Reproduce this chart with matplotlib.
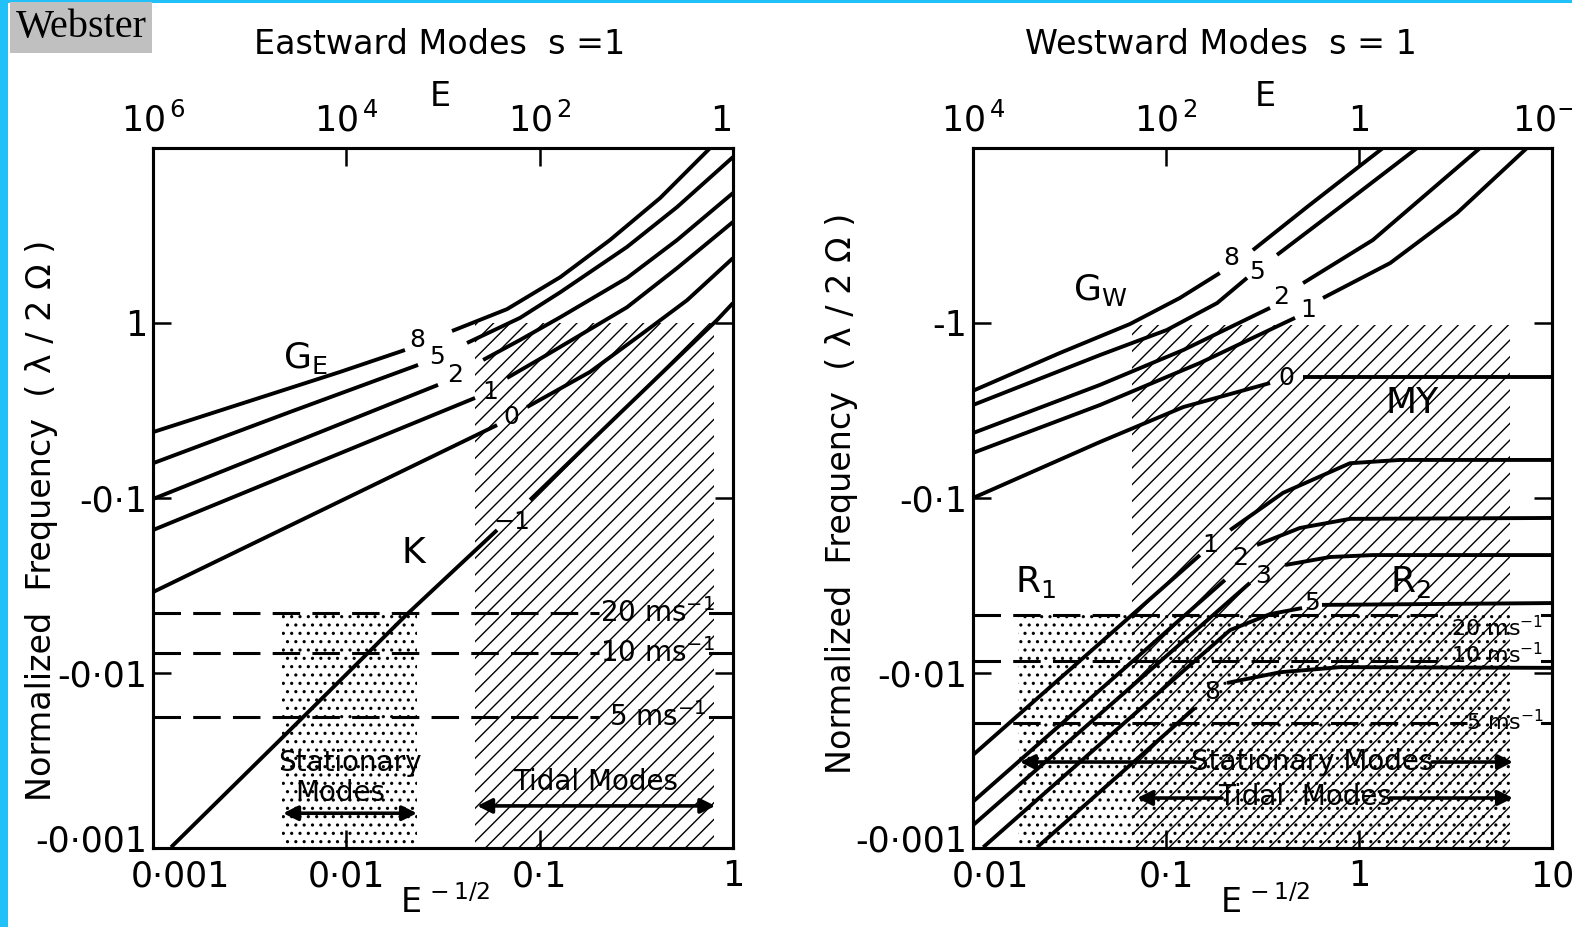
import numpy as np
import matplotlib
matplotlib.use('Agg')
import matplotlib.pyplot as plt
from matplotlib.patches import Rectangle
from matplotlib.transforms import ScaledTranslation

# x = E^-1/2, y = normalized frequency (lambda / 2 Omega)

# ---- eastward modes (left panel)
east_g8_x = [0.001, 0.00282, 0.00927, 0.0201]
east_g8_y = [0.238, 0.344, 0.525, 0.701]
east_g8_hi_x = [0.0352, 0.0678, 0.128, 0.231, 0.420, 0.762]
east_g8_hi_y = [0.90, 1.20, 1.83, 2.98, 5.18, 10.0]
east_g5_x = [0.001, 0.00511, 0.0235]
east_g5_y = [0.158, 0.310, 0.576]
east_g5_hi_x = [0.0421, 0.0792, 0.128, 0.283, 0.514, 1.0]
east_g5_hi_y = [0.769, 1.07, 1.50, 2.72, 4.60, 8.88]
east_g2_x = [0.001, 0.0298]
east_g2_y = [0.0987, 0.443]
east_g2_hi_x = [0.0510, 0.0792, 0.128, 0.283, 0.514, 1.0]
east_g2_hi_y = [0.615, 0.80, 1.08, 1.81, 2.98, 5.53]
east_g1_x = [0.001, 0.0463]
east_g1_y = [0.0656, 0.373]
east_g1_hi_x = [0.0678, 0.1, 0.156, 0.283, 0.514, 1.0]
east_g1_hi_y = [0.485, 0.622, 0.832, 1.23, 2.06, 3.78]
east_g0_x = [0.001, 0.0602]
east_g0_y = [0.0290, 0.261]
east_g0_hi_x = [0.0861, 0.182, 0.343, 0.579, 1.0]
east_g0_hi_y = [0.331, 0.525, 0.877, 1.35, 2.35]
east_k_x = [0.00124, 0.0053, 0.0209, 0.0602]
east_k_y = [0.00101, 0.00491, 0.0220, 0.0656]
east_k_hi_x = [0.0892, 0.261, 0.827, 1.0]
east_k_hi_y = [0.0975, 0.306, 1.04, 1.30]

east_tidal_x = [0.0463, 0.798]
east_tidal_y = [0.001, 1.0]
east_stat_x = [0.00465, 0.0232]
east_stat_y = [0.001, 0.022]
east_wind_y = [0.022, 0.013, 0.0056]

# ---- westward modes (right panel)
west_g8_x = [0.01, 0.0282, 0.0651, 0.118, 0.190]
west_g8_y = [0.41, 0.674, 0.987, 1.39, 1.93]
west_g8_hi_x = [0.282, 0.538, 1.33]
west_g8_hi_y = [2.61, 4.60, 10.0]
west_g5_x = [0.01, 0.0455, 0.101, 0.184, 0.263]
west_g5_y = [0.340, 0.656, 0.912, 1.30, 1.81]
west_g5_hi_x = [0.376, 0.798, 2.00]
west_g5_hi_y = [2.45, 4.60, 10.0]
west_g2_x = [0.01, 0.0455, 0.123, 0.346]
west_g2_y = [0.235, 0.443, 0.701, 1.22]
west_g2_hi_x = [0.513, 1.18, 4.24]
west_g2_hi_y = [1.69, 2.98, 10.0]
west_g1_x = [0.01, 0.0455, 0.150, 0.466]
west_g1_y = [0.181, 0.340, 0.591, 1.07]
west_g1_hi_x = [0.651, 1.45, 3.22, 7.42]
west_g1_hi_y = [1.39, 2.20, 4.25, 10.0]
west_g0_x = [0.01, 0.0455, 0.123, 0.346]
west_g0_y = [0.100, 0.209, 0.331, 0.454]
west_my_x = [0.513, 10.0]
west_my_y = [0.491, 0.491]

west_r1_x = [0.01, 0.150]
west_r1_y = [0.0034, 0.0472]
west_r1_hi_x = [0.215, 0.404, 0.898, 1.63, 10.0]
west_r1_hi_y = [0.0656, 0.107, 0.158, 0.165, 0.165]
west_r2_x = [0.01, 0.202]
west_r2_y = [0.00184, 0.0340]
west_r2_hi_x = [0.296, 0.494, 0.898, 10.0]
west_r2_hi_y = [0.0539, 0.0674, 0.0760, 0.0769]
west_r3_x = [0.01, 0.272]
west_r3_y = [0.00135, 0.0327]
west_r3_hi_x = [0.414, 0.708, 1.18, 10.0]
west_r3_hi_y = [0.0414, 0.046, 0.0472, 0.0472]
west_r5_x = [0.0113, 0.118, 0.215, 0.346, 0.507]
west_r5_y = [0.00101, 0.00987, 0.0176, 0.0217, 0.0235]
west_r5_hi_x = [0.643, 10.0]
west_r5_hi_y = [0.0245, 0.0251]
west_r8_x = [0.0215, 0.141]
west_r8_y = [0.00101, 0.00631]
west_r8_hi_x = [0.207, 0.390, 0.798, 10.0]
west_r8_hi_y = [0.00877, 0.0101, 0.0108, 0.0107]

west_tidal_x = [0.0667, 6.06]
west_tidal_y = [0.001, 0.974]
west_stat_x = [0.0171, 6.06]
west_stat_y = [0.001, 0.0214]
west_wind_y = [0.0214, 0.0117, 0.00518]

wind_labels = ['20 ms$^{-1}$', '10 ms$^{-1}$', '5 ms$^{-1}$']

# ---- axes ticks
freq_ticks = [0.001, 0.01, 0.1, 1]
east_ylabels = ['-0·001', '-0·01', '-0·1', '1']
west_ylabels = ['-0·001', '-0·01', '-0·1', '-1']
east_xticks = [0.001, 0.01, 0.1, 1]
east_xlabels = ['0·001', '0·01', '0·1', '1']
west_xticks = [0.01, 0.1, 1, 10]
west_xlabels = ['0·01', '0·1', '1', '10']
east_top_e = [1e6, 1e4, 1e2, 1.0]
east_top_labels = ['$10^{\\,6}$', '$10^{\\,4}$', '$10^{\\,2}$', '1']
west_top_e = [1e4, 1e2, 1.0, 1e-2]
west_top_labels = ['$10^{\\,4}$', '$10^{\\,2}$', '1', '$10^{-2}$']

W, H = 1572, 927
LW = 2.8


def style_axes(ax, xticks, xlabels, ylabels, top_e, top_labels):
    ax.set_xscale('log')
    ax.set_yscale('log')
    ax.set_xlim(xticks[0], xticks[-1])
    ax.set_ylim(freq_ticks[0], 10)
    ax.set_xticks(xticks, xlabels)
    ax.set_yticks(freq_ticks, ylabels)
    ax.minorticks_off()
    ax.tick_params(direction='in', length=13, width=1.8, labelsize=25, right=True)
    ax.tick_params(axis='x', pad=8)
    ax.tick_params(axis='y', pad=4)
    for s in ax.spines.values():
        s.set_linewidth(2.2)
    top = ax.twiny()
    top.set_xscale('log')
    top.set_xlim(ax.get_xlim())
    top.set_xticks(np.power(top_e, -0.5), top_labels)
    top.minorticks_off()
    top.tick_params(direction='in', length=13, width=1.8, labelsize=25, pad=7)
    for s in top.spines.values():
        s.set_linewidth(2.2)
    return top


def shift(fig, label, dx, dy):
    # nudge a tick label by some pixels
    label.set_transform(label.get_transform()
                        + ScaledTranslation(dx / 100, dy / 100, fig.dpi_scale_trans))


def region(ax, xs, ys, hatch, hlw=1.0):
    p = Rectangle((xs[0], ys[0]), xs[1] - xs[0], ys[1] - ys[0], facecolor='none',
                  edgecolor='black', linewidth=0, hatch=hatch, zorder=1)
    if hasattr(p, 'set_hatch_linewidth'):
        p.set_hatch_linewidth(hlw)
    ax.add_patch(p)


def curve(ax, xs, ys):
    ax.plot(xs, ys, color='black', lw=LW, solid_capstyle='butt', zorder=3)


def wind_line(ax, y, x0, x1, x2, x3):
    ax.plot([x0, x1], [y, y], color='black', lw=2.2, ls=(0, (9, 4)), zorder=2)
    ax.plot([x2, x3], [y, y], color='black', lw=2.2, zorder=2)


def arrow(ax, x0, x1, y, style):
    ax.annotate('', xy=(x1, y), xytext=(x0, y),
                arrowprops=dict(arrowstyle=style, lw=2.6, color='black',
                                mutation_scale=22, shrinkA=0, shrinkB=0), zorder=4)


def main() -> None:
    fig = plt.figure(figsize=(W / 100, H / 100), dpi=100)
    fig.patch.set_facecolor('white')
    plt.rcParams['hatch.linewidth'] = 1.0

    ax1 = fig.add_axes([153 / W, 79 / H, 580 / W, 700 / H])
    ax2 = fig.add_axes([973 / W, 79 / H, 579 / W, 700 / H])

    # ---------------- eastward panel
    region(ax1, east_tidal_x, east_tidal_y, '//')
    region(ax1, east_stat_x, east_stat_y, '..', 1.1)
    for xs, ys in [(east_g8_x, east_g8_y), (east_g8_hi_x, east_g8_hi_y),
                   (east_g5_x, east_g5_y), (east_g5_hi_x, east_g5_hi_y),
                   (east_g2_x, east_g2_y), (east_g2_hi_x, east_g2_hi_y),
                   (east_g1_x, east_g1_y), (east_g1_hi_x, east_g1_hi_y),
                   (east_g0_x, east_g0_y), (east_g0_hi_x, east_g0_hi_y),
                   (east_k_x, east_k_y), (east_k_hi_x, east_k_hi_y)]:
        curve(ax1, xs, ys)
    for y, lab in zip(east_wind_y, wind_labels):
        wind_line(ax1, y, 0.001, 0.203, 0.76, 1.0)
        ax1.text(0.405, y, lab, fontsize=20, ha='center', va='center', zorder=4)

    for txt, x, y in [('8', 0.0234, 0.80), ('5', 0.0295, 0.639), ('2', 0.0365, 0.505),
                      ('1', 0.0554, 0.403), ('0', 0.0711, 0.290), ('−1', 0.0720, 0.0729)]:
        ax1.text(x, y, txt, fontsize=18, ha='center', va='center', zorder=4)
    ax1.text(0.0221, 0.0485, 'K', fontsize=26, ha='center', va='center')
    ax1.text(0.00611, 0.631, 'G$_{\\rm E}$', fontsize=26, ha='center', va='center')
    ax1.text(0.0104, 0.00306, 'Stationary', fontsize=20, ha='center', va='center', zorder=4)
    ax1.text(0.00928, 0.00206, 'Modes', fontsize=20, ha='center', va='center', zorder=4)
    arrow(ax1, 0.00471, 0.0232, 0.00158, '<|-|>')
    ax1.text(0.194, 0.00238, 'Tidal Modes', fontsize=20, ha='center', va='center', zorder=4)
    arrow(ax1, 0.0475, 0.81, 0.00174, '<|-|>')

    top1 = style_axes(ax1, east_xticks, east_xlabels, east_ylabels, east_top_e, east_top_labels)

    # ---------------- westward panel
    region(ax2, west_tidal_x, west_tidal_y, '//')
    region(ax2, west_stat_x, west_stat_y, '..', 1.1)
    for xs, ys in [(west_g8_x, west_g8_y), (west_g8_hi_x, west_g8_hi_y),
                   (west_g5_x, west_g5_y), (west_g5_hi_x, west_g5_hi_y),
                   (west_g2_x, west_g2_y), (west_g2_hi_x, west_g2_hi_y),
                   (west_g1_x, west_g1_y), (west_g1_hi_x, west_g1_hi_y),
                   (west_g0_x, west_g0_y), (west_my_x, west_my_y),
                   (west_r1_x, west_r1_y), (west_r1_hi_x, west_r1_hi_y),
                   (west_r2_x, west_r2_y), (west_r2_hi_x, west_r2_hi_y),
                   (west_r3_x, west_r3_y), (west_r3_hi_x, west_r3_hi_y),
                   (west_r5_x, west_r5_y), (west_r5_hi_x, west_r5_hi_y),
                   (west_r8_x, west_r8_y), (west_r8_hi_x, west_r8_hi_y)]:
        curve(ax2, xs, ys)

    wind_line(ax2, west_wind_y[0], 0.01, 2.86, 8.87, 10.0)
    wind_line(ax2, west_wind_y[1], 0.01, 2.86, 8.87, 10.0)
    wind_line(ax2, west_wind_y[2], 0.01, 3.63, 8.87, 10.0)
    ax2.text(5.19, 0.0181, wind_labels[0], fontsize=16, ha='center', va='center', zorder=4)
    ax2.text(5.19, 0.0127, wind_labels[1], fontsize=16, ha='center', va='center', zorder=4)
    ax2.text(5.71, 0.00525, wind_labels[2], fontsize=16, ha='center', va='center', zorder=4)

    for txt, x, y in [('8', 0.217, 2.35), ('5', 0.296, 1.95), ('2', 0.394, 1.41),
                      ('1', 0.544, 1.19), ('0', 0.419, 0.485),
                      ('1', 0.169, 0.0539), ('2', 0.242, 0.0454), ('3', 0.318, 0.0358),
                      ('5', 0.570, 0.0251), ('8', 0.173, 0.00779)]:
        ax2.text(x, y, txt, fontsize=18, ha='center', va='center', zorder=4)
    ax2.text(0.0455, 1.54, 'G$_{\\rm W}$', fontsize=26, ha='center', va='center')
    ax2.text(1.88, 0.349, 'MY', fontsize=26, ha='center', va='center')
    ax2.text(0.0210, 0.0331, 'R$_{1}$', fontsize=26, ha='center', va='center')
    ax2.text(1.84, 0.0331, 'R$_{2}$', fontsize=26, ha='center', va='center')

    ax2.text(0.570, 0.0031, 'Stationary Modes', fontsize=20, ha='center', va='center', zorder=4)
    arrow(ax2, 0.0175, 0.141, 0.0031, '<|-')
    arrow(ax2, 2.39, 6.28, 0.0031, '-|>')
    ax2.text(0.525, 0.00196, 'Tidal  Modes', fontsize=20, ha='center', va='center', zorder=4)
    arrow(ax2, 0.0708, 0.195, 0.00193, '<|-')
    arrow(ax2, 1.45, 6.28, 0.00193, '-|>')

    style_axes(ax2, west_xticks, west_xlabels, west_ylabels, west_top_e, west_top_labels)

    # corner labels sit apart in the original
    shift(fig, ax1.get_xticklabels()[0], 27, 0)
    shift(fig, ax1.get_yticklabels()[0], 0, 10)
    shift(fig, top1.get_xticklabels()[-1], -12, 0)
    shift(fig, ax2.get_xticklabels()[0], 17, 0)
    shift(fig, ax2.get_yticklabels()[0], 0, 10)

    # ---------------- figure texts
    fs = 24
    fig.text(440 / W, 1 - 45 / H, 'Eastward Modes  s =1', fontsize=fs, ha='center', va='center')
    fig.text(1221 / W, 1 - 45 / H, 'Westward Modes  s = 1', fontsize=fs, ha='center', va='center')
    fig.text(440 / W, 1 - 97 / H, 'E', fontsize=fs, ha='center', va='center')
    fig.text(1265 / W, 1 - 97 / H, 'E', fontsize=fs, ha='center', va='center')
    fig.text(445 / W, 1 - 903 / H, 'E$^{\\,-1/2}$', fontsize=fs, ha='center', va='center')
    fig.text(1265 / W, 1 - 903 / H, 'E$^{\\,-1/2}$', fontsize=fs, ha='center', va='center')
    ylab = 'Normalized  Frequency  ( λ / 2 Ω )'
    fig.text(42 / W, 1 - 520 / H, ylab, fontsize=fs, rotation=90, ha='center', va='center')
    fig.text(842 / W, 1 - 493 / H, ylab, fontsize=fs, rotation=90, ha='center', va='center')

    # frame of the slide and the name tag
    fig.add_artist(Rectangle((0, 0), 8 / W, 1, transform=fig.transFigure,
                             color='#22c0f8', lw=0))
    fig.add_artist(Rectangle((0, 1 - 3 / H), 1, 3 / H, transform=fig.transFigure,
                             color='#22c0f8', lw=0))
    fig.add_artist(Rectangle((10 / W, 1 - 53 / H), 142 / W, 51 / H, transform=fig.transFigure,
                             color='#c0c0c0', lw=0))
    fig.text(81 / W, 1 - 28 / H, 'Webster', fontsize=29, family='Liberation Serif',
             ha='center', va='center')

    fig.savefig('out.png', dpi=100)


if __name__ == '__main__':
    main()
